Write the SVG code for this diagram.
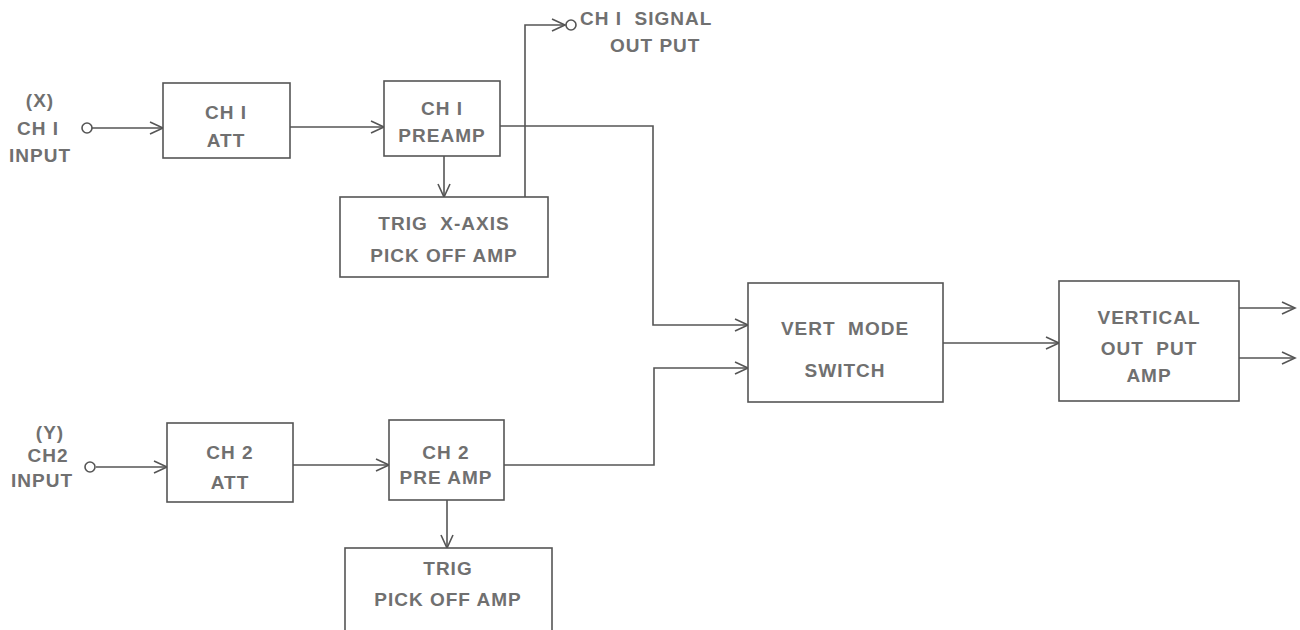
<svg xmlns="http://www.w3.org/2000/svg" width="1300" height="630" viewBox="0 0 1300 630">
<defs>
<marker id="arr" markerWidth="16" markerHeight="14" refX="14" refY="7" orient="auto" markerUnits="userSpaceOnUse">
<path d="M1,1 L14,7 L1,13" fill="none" stroke="#555" stroke-width="1.6"/>
</marker>
<style>
.box{fill:#fff;stroke:#555;stroke-width:1.6}
.ln{fill:none;stroke:#555;stroke-width:1.6}
.t{font-family:"Liberation Sans",Arial,sans-serif;font-size:19px;font-weight:bold;fill:#707070;text-anchor:middle;letter-spacing:1px}
.l{font-family:"Liberation Sans",Arial,sans-serif;font-size:19px;font-weight:bold;fill:#707070;letter-spacing:1px}
.term{fill:#fff;stroke:#555;stroke-width:1.6}
</style>
</defs>
<rect width="1300" height="630" fill="#fff"/>
<g id="connectors">
<path class="ln" d="M92,128 L163,128" marker-end="url(#arr)"/>
<path class="ln" d="M290,127 L384,127" marker-end="url(#arr)"/>
<path class="ln" d="M500,126 L653,126 L653,325 L748,325" marker-end="url(#arr)"/>
<path class="ln" d="M444,156 L444,197" marker-end="url(#arr)"/>
<path class="ln" d="M525,197 L525,25 L565,25" marker-end="url(#arr)"/>
<path class="ln" d="M96,467 L167,467" marker-end="url(#arr)"/>
<path class="ln" d="M293,465 L389,465" marker-end="url(#arr)"/>
<path class="ln" d="M504,465 L654,465 L654,368 L748,368" marker-end="url(#arr)"/>
<path class="ln" d="M447,500 L447,548" marker-end="url(#arr)"/>
<path class="ln" d="M943,343 L1059,343" marker-end="url(#arr)"/>
<path class="ln" d="M1239,308 L1295,308" marker-end="url(#arr)"/>
<path class="ln" d="M1239,358 L1295,358" marker-end="url(#arr)"/>
</g>
<g id="ch1-input">
<circle class="term" cx="87" cy="128" r="5"/>
<text class="t" x="40" y="107">(X)</text>
<text class="t" x="38" y="135">CH I</text>
<text class="t" x="40" y="162">INPUT</text>
</g>
<g id="ch1-signal-output">
<circle class="term" cx="571" cy="25" r="5"/>
<text class="l" x="580" y="25" xml:space="preserve">CH I  SIGNAL</text>
<text class="l" x="610" y="52">OUT PUT</text>
</g>
<g id="ch1-att">
<rect class="box" x="163" y="83" width="127" height="75"/>
<text class="t" x="226" y="119">CH I</text>
<text class="t" x="226" y="147">ATT</text>
</g>
<g id="ch1-preamp">
<rect class="box" x="384" y="81" width="116" height="75"/>
<text class="t" x="442" y="115">CH I</text>
<text class="t" x="442" y="142">PREAMP</text>
</g>
<g id="trig-x-axis">
<rect class="box" x="340" y="197" width="208" height="80"/>
<text class="t" x="444" y="230" xml:space="preserve">TRIG  X-AXIS</text>
<text class="t" x="444" y="262">PICK OFF AMP</text>
</g>
<g id="ch2-input">
<circle class="term" cx="90" cy="467" r="5"/>
<text class="t" x="50" y="439">(Y)</text>
<text class="t" x="48" y="462">CH2</text>
<text class="t" x="42" y="487">INPUT</text>
</g>
<g id="ch2-att">
<rect class="box" x="167" y="423" width="126" height="79"/>
<text class="t" x="230" y="459">CH 2</text>
<text class="t" x="230" y="489">ATT</text>
</g>
<g id="ch2-preamp">
<rect class="box" x="389" y="420" width="115" height="80"/>
<text class="t" x="446" y="459">CH 2</text>
<text class="t" x="446" y="484">PRE AMP</text>
</g>
<g id="trig-pickoff">
<rect class="box" x="345" y="548" width="207" height="100"/>
<text class="t" x="448" y="575">TRIG</text>
<text class="t" x="448" y="606">PICK OFF AMP</text>
</g>
<g id="vert-mode-switch">
<rect class="box" x="748" y="283" width="195" height="119"/>
<text class="t" x="845" y="335" xml:space="preserve">VERT  MODE</text>
<text class="t" x="845" y="377">SWITCH</text>
</g>
<g id="vertical-output-amp">
<rect class="box" x="1059" y="281" width="180" height="120"/>
<text class="t" x="1149" y="324">VERTICAL</text>
<text class="t" x="1149" y="355" xml:space="preserve">OUT  PUT</text>
<text class="t" x="1149" y="382">AMP</text>
</g>
</svg>
